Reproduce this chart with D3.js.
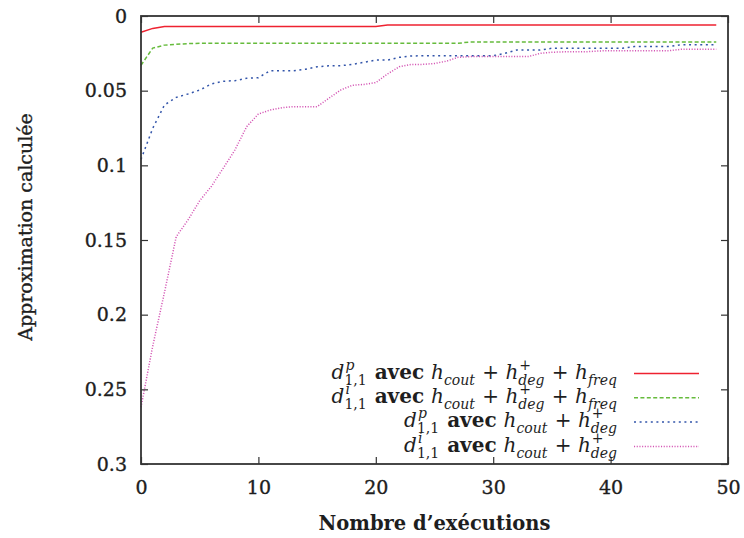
<!DOCTYPE html>
<html><head><meta charset="utf-8">
<script src="https://cdn.jsdelivr.net/npm/d3@7"></script>
<style>
html,body{margin:0;padding:0;background:#fff;}
svg{display:block;}
</style></head>
<body>
<svg id="chart" width="744" height="538"></svg>
<script>
// ---- data ----
const xValues = d3.range(0, 50);
const seriesRedDp = [0.0109,0.0083,0.0071,0.0071,0.0071,0.0071,0.0071,0.0071,0.0071,0.0071,
 0.0071,0.0071,0.0071,0.0071,0.0071,0.0071,0.0071,0.0071,0.0071,0.0071,
 0.0071,0.006,0.006,0.006,0.006,0.006,0.006,0.006,0.006,0.006,
 0.006,0.006,0.006,0.006,0.006,0.006,0.006,0.006,0.006,0.006,
 0.006,0.006,0.006,0.006,0.006,0.006,0.006,0.006,0.006,0.006];
const seriesGreenDi = [0.033,0.0215,0.0195,0.019,0.0185,0.0183,0.0183,0.0183,0.0183,0.0183,
 0.0183,0.0183,0.0183,0.0183,0.0183,0.0183,0.0183,0.0183,0.0183,0.0183,
 0.0183,0.0183,0.0183,0.0183,0.0183,0.0183,0.0183,0.0183,0.0174,0.0174,
 0.0174,0.0174,0.0174,0.0174,0.0174,0.0174,0.0174,0.0174,0.0174,0.0174,
 0.0174,0.0174,0.0174,0.0174,0.0174,0.0174,0.0174,0.0174,0.0174,0.0174];
const seriesBlueDp = [0.096,0.0752,0.0596,0.0545,0.0522,0.0496,0.0455,0.0437,0.0433,0.0417,
 0.0413,0.0366,0.0366,0.0366,0.0357,0.034,0.0333,0.0333,0.0324,0.031,
 0.0295,0.0295,0.0277,0.0268,0.0266,0.0266,0.0266,0.0266,0.0266,0.0266,
 0.0266,0.025,0.0228,0.0228,0.0228,0.0216,0.0216,0.0216,0.0216,0.0216,
 0.0216,0.0216,0.0205,0.0205,0.0205,0.0205,0.0192,0.0192,0.0192,0.0192];
const seriesPinkDi = [0.262,0.221,0.185,0.1478,0.1366,0.1237,0.114,0.102,0.0897,0.0741,
 0.0656,0.063,0.0614,0.0607,0.0607,0.0607,0.0551,0.0496,0.0464,0.0458,
 0.0446,0.0388,0.034,0.0324,0.0324,0.0318,0.0303,0.0277,0.0272,0.0272,
 0.0272,0.0272,0.0272,0.0272,0.025,0.0243,0.024,0.024,0.0239,0.0234,
 0.0232,0.0232,0.0232,0.0232,0.0232,0.0232,0.0223,0.0223,0.0223,0.0223];
const xTicks = [0,10,20,30,40,50];
const yTicks = [0,0.05,0.1,0.15,0.2,0.25,0.3];
const yTickLabels = ["0","0.05","0.1","0.15","0.2","0.25","0.3"];
const xTitle = "Nombre d\u2019exécutions";
const yTitle = "Approximation calculée";
// legend label pieces: string = upright text, [base, sup, sub] = italic math
const legendLabels = [
  [["d","p","1,1"]," avec ",["h","","cout"]," + ",["h","+","deg"]," + ",["h","","freq"]],
  [["d","i","1,1"]," avec ",["h","","cout"]," + ",["h","+","deg"]," + ",["h","","freq"]],
  [["d","p","1,1"]," avec ",["h","","cout"]," + ",["h","+","deg"]],
  [["d","i","1,1"]," avec ",["h","","cout"]," + ",["h","+","deg"]]
];
const seriesList = [seriesRedDp, seriesGreenDi, seriesBlueDp, seriesPinkDi];
const colors = ["#ee2230","#66bb3c","#3355aa","#d455b4"];
const dashes = [null,"4,2.4","2,3.6","1.1,1.6"];

// ---- layout ----
const svg = d3.select("#chart");
const L = 141, R = 728, T = 16, B = 464;
const x = d3.scaleLinear().domain([0,50]).range([L,R]);
const y = d3.scaleLinear().domain([0,0.3]).range([T,B]);
const font = "'DejaVu Serif', serif";
const frameColor = "#333";
const textColor = "#1e1e1e";

// lines
const line = d3.line().x((d,i)=>x(xValues[i])).y(d=>y(d));
seriesList.forEach((s,k)=>{
  svg.append("path").datum(s).attr("d",line)
    .attr("fill","none").attr("stroke",colors[k]).attr("stroke-width",1.5)
    .attr("stroke-dasharray",dashes[k]);
});

// axes with inward ticks + mirror
const tl = 7;
const axB = d3.axisBottom(x).tickValues(xTicks).tickSizeInner(-tl).tickSizeOuter(0).tickPadding(17).tickFormat(d3.format("d"));
const axT = d3.axisTop(x).tickValues(xTicks).tickSizeInner(-tl).tickSizeOuter(0).tickFormat("");
const axL = d3.axisLeft(y).tickValues(yTicks).tickSizeInner(-tl).tickSizeOuter(0).tickPadding(14).tickFormat((d,i)=>yTickLabels[i]);
const axR = d3.axisRight(y).tickValues(yTicks).tickSizeInner(-tl).tickSizeOuter(0).tickFormat("");
function styleAx(g){
  g.select(".domain").remove();
  g.selectAll(".tick line").attr("stroke",frameColor).attr("stroke-width",1.2);
  g.selectAll(".tick text").attr("fill",textColor).attr("stroke",textColor).attr("stroke-width",0.35)
    .style("font-family",font).style("font-size","19px");
}
svg.append("g").attr("transform",`translate(0,${B})`).call(axB).call(styleAx);
svg.append("g").attr("transform",`translate(0,${T})`).call(axT).call(styleAx);
svg.append("g").attr("transform",`translate(${L},0)`).call(axL).call(styleAx);
svg.append("g").attr("transform",`translate(${R},0)`).call(axR).call(styleAx);
svg.selectAll("g text").filter(function(){return this.textContent==="";}).remove();

// frame
svg.append("rect").attr("x",L).attr("y",T).attr("width",R-L).attr("height",B-T)
  .attr("fill","none").attr("stroke",frameColor).attr("stroke-width",1.8);

// titles
svg.append("text").attr("x",(L+R)/2).attr("y",530).attr("text-anchor","middle")
  .style("font-family",font).style("font-size","20px").style("font-weight","bold")
  .attr("fill",textColor).attr("textLength",232).attr("lengthAdjust","spacingAndGlyphs").text(xTitle);
svg.append("text").attr("transform","translate(32,227) rotate(-90)").attr("text-anchor","middle")
  .style("font-family",font).style("font-size","19px").attr("fill",textColor)
  .attr("stroke",textColor).attr("stroke-width",0.35).text(yTitle);

// legend
const legX1 = 634, legX2 = 699, legRight = 618;
const legY = [373.5, 397.8, 422, 446.5];
const mainSize = 20, scriptSize = 14;
legendLabels.forEach((pieces,k)=>{
  const ly = legY[k];
  svg.append("line").attr("x1",legX1).attr("x2",legX2).attr("y1",ly).attr("y2",ly)
    .attr("stroke",colors[k]).attr("stroke-width",1.5).attr("stroke-dasharray",dashes[k]);
  const g = svg.append("g");
  const base = ly + 5;
  let cx = 0;
  function addText(str, size, italic, bold, xx, yy){
    const t = g.append("text").attr("x",xx).attr("y",yy)
      .style("font-family",font).style("font-size",size+"px")
      .style("font-style",italic?"italic":"normal").style("font-weight",bold?"bold":"normal")
      .attr("fill",textColor).attr("xml:space","preserve").style("white-space","pre").text(str);
    return t.node().getComputedTextLength();
  }
  pieces.forEach(p=>{
    if (typeof p === "string") {
      cx += addText(p, mainSize, false, p.trim()==="avec", cx, base);
    } else {
      cx += addText(p[0], mainSize, true, false, cx, base);
      let w = 0;
      if (p[1]) w = Math.max(w, addText(p[1], scriptSize, true, false, cx+1, base-9));
      if (p[2]) w = Math.max(w, addText(p[2], scriptSize, p[2]!=="1,1", false, cx, base+6));
      cx += w + 1;
    }
  });
  g.attr("transform",`translate(${legRight-cx},0)`);
});
</script>
</body></html>
